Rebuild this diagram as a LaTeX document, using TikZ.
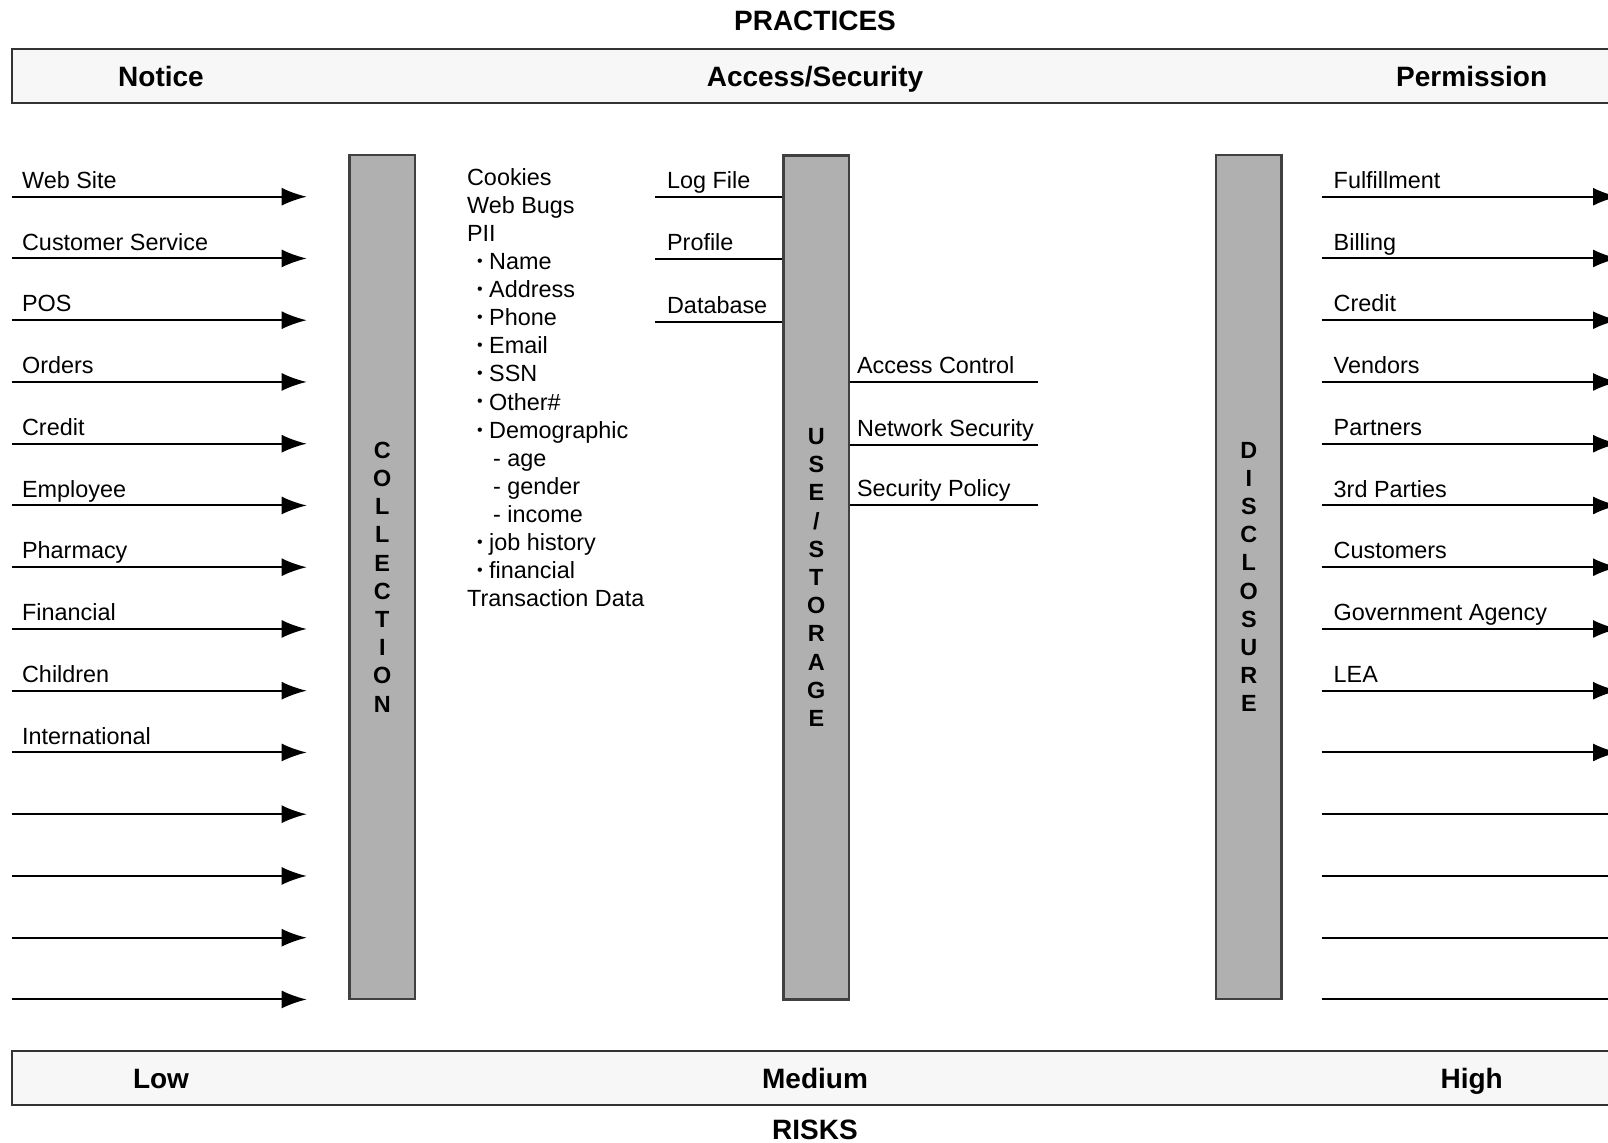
\documentclass[tikz,border=0pt]{standalone}
\usepackage{fontspec}
\setmainfont{Liberation Sans}
\usetikzlibrary{arrows.meta}
\tikzset{>={Latex[length=12.5pt,width=9pt]}}
\tikzset{
  lbl/.style={anchor=base west, inner sep=0pt, font=\fontsize{11.7}{14}\selectfont},
  head/.style={inner sep=0pt, text height=11.7pt, text depth=1.3pt, font=\fontsize{14}{16}\selectfont\bfseries},
  band/.style={draw=black!80, line width=1.2pt, fill=black!3, minimum width=803.2pt, minimum height=27pt, inner sep=0pt},
  bar/.style={draw=black!75, line width=1.2pt, fill=black!31, minimum width=32.8pt, minimum height=422pt, inner sep=0pt, align=center, font=\fontsize{11.7}{14.1}\selectfont\bfseries},
  wire/.style={line width=1pt}
}
\newcommand{\itemdot}{\raisebox{0.25ex}{\fontsize{8}{8}\selectfont\textbullet}}

\begin{document}
\begin{tikzpicture}[x=0.5pt, y=-0.5pt]
	\useasboundingbox (0,0) rectangle (1608,1142);
	\clip (0,0) rectangle (1608,1142);
	\node[head] (pract) at (815,20.5) {PRACTICES};
	\node[band] (topband) at (815,76) {};
	\node[head] (notice) at (161,76) {Notice};
	\node[head] (access) at (815,76) {Access/Security};
	\node[head] (perm) at (1471.7,76) {Permission};
	\node[band] (botband) at (815,1078) {};
	\node[head] (low) at (161,1078) {Low};
	\node[head] (medium) at (815,1078) {Medium};
	\node[head] (high) at (1471.7,1078) {High};
	\node[head, text depth=0pt] (risks) at (815,1127.4) {RISKS};
	% bars
	\node[bar] (coll) at (382.3,577) {C\\O\\L\\L\\E\\C\\T\\I\\O\\N};
	\node[bar] (use) at (816.3,577.5) {U\\S\\E\\/\\S\\T\\O\\R\\A\\G\\E};
	\node[bar] (disc) at (1248.8,577) {D\\I\\S\\C\\L\\O\\S\\U\\R\\E};
	% collection side
	\foreach \i in {1,...,14} {
	\coordinate (inA\i) at (11.7, 196.7+61.75*\i-61.75);
	\coordinate (inB\i) at (306.7, 196.7+61.75*\i-61.75);
	\draw [wire, ->] (inA\i) -- (inB\i);
	}
	\foreach \txt [count=\i] in {Web Site, Customer Service, POS, Orders, Credit, Employee, Pharmacy, Financial, Children, International}
	\node[lbl] (src\i) at (21.7, 188.3+61.75*\i-61.75) {\txt};
	\foreach \dx/\txt [count=\i] in {0/Cookies, 0/Web Bugs, 0/PII, 10/\itemdot\ Name, 10/\itemdot\ Address, 10/\itemdot\ Phone, 10/\itemdot\ Email, 10/\itemdot\ SSN, 10/\itemdot\ Other\#, 10/\itemdot\ Demographic, 26/- age, 26/- gender, 26/- income, 10/\itemdot\ job history, 10/\itemdot\ financial, 0/Transaction Data}
	\node[lbl] (item\i) at (466.7+\dx, 185+28.13*\i-28.13) {\txt};
	% storage side
	\foreach \y/\txt [count=\i] in {196.7/Log File, 259.3/Profile, 322.3/Database} {
	\coordinate (stA\i) at (655,\y);
	\draw [wire] (stA\i) -- (stA\i -| use.west);
	\node[lbl] (store\i) at (666.7,\y-8.4) {\txt};
	}
	\foreach \y/\txt [count=\i] in {382.3/Access Control, 445/Network Security, 505/Security Policy} {
	\coordinate (scB\i) at (1038.3,\y);
	\draw [wire] (scB\i -| use.east) -- (scB\i);
	\node[lbl] (sec\i) at (856.7,\y-8.4) {\txt};
	}
	% disclosure side
	\foreach \i in {1,...,14} {
	\coordinate (outA\i) at (1321.7, 196.7+61.75*\i-61.75);
	\coordinate (outB\i) at (1618, 196.7+61.75*\i-61.75);
	}
	\foreach \i in {1,...,10}
	\draw [wire, ->] (outA\i) -- (outB\i);
	\foreach \i in {11,...,14}
	\draw [wire] (outA\i) -- (outB\i);
	\foreach \txt [count=\i] in {Fulfillment, Billing, Credit, Vendors, Partners, 3rd Parties, Customers, Government Agency, LEA}
	\node[lbl] (dst\i) at (1333.3, 188.3+61.75*\i-61.75) {\txt};
\end{tikzpicture}
\end{document}
